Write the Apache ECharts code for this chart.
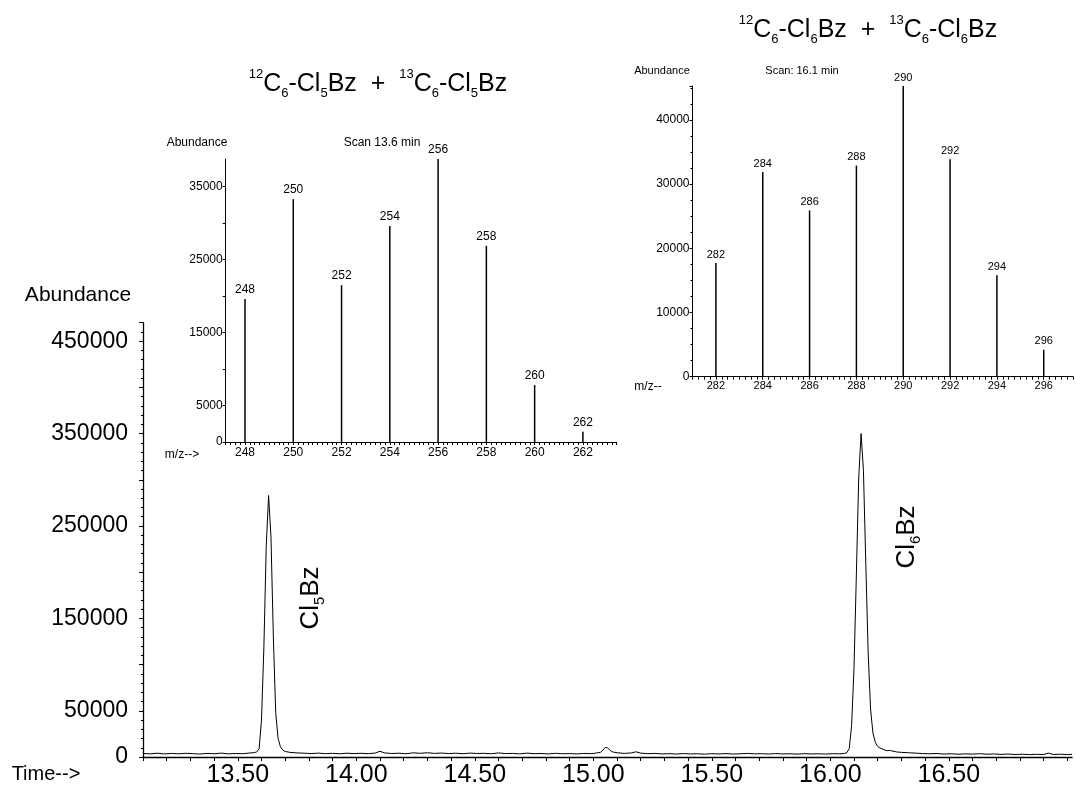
<!DOCTYPE html>
<html><head><meta charset="utf-8">
<script src="https://cdn.jsdelivr.net/npm/echarts@6/dist/echarts.min.js"></script>
<style>html,body{margin:0;padding:0;background:#fff}#c{width:1076px;height:789px}</style>
</head><body><div id="c"></div>
<script>
// ---- Total ion chromatogram (time in min, abundance) ----
const chromTime = [13.10,13.13,13.16,13.19,13.22,13.25,13.28,13.31,13.34,13.37,13.40,13.43,13.46,13.49,13.52,13.55,13.57,13.58,13.59,13.60,13.61,13.62,13.63,13.64,13.65,13.66,13.67,13.68,13.69,13.70,13.72,13.75,13.78,13.81,13.84,13.87,13.90,13.93,13.96,13.99,14.02,14.05,14.08,14.10,14.12,14.15,14.18,14.21,14.24,14.27,14.30,14.33,14.36,14.39,14.42,14.45,14.48,14.51,14.54,14.57,14.60,14.63,14.66,14.69,14.72,14.75,14.78,14.81,14.84,14.87,14.90,14.93,14.96,14.99,15.01,15.03,15.04,15.05,15.06,15.07,15.08,15.10,15.13,15.16,15.18,15.20,15.23,15.26,15.29,15.32,15.35,15.38,15.41,15.44,15.47,15.50,15.53,15.56,15.59,15.62,15.65,15.68,15.71,15.74,15.77,15.80,15.83,15.86,15.89,15.92,15.95,15.98,16.01,16.04,16.06,16.07,16.08,16.09,16.10,16.11,16.12,16.13,16.14,16.15,16.16,16.17,16.18,16.19,16.20,16.21,16.22,16.23,16.24,16.25,16.26,16.28,16.30,16.33,16.36,16.39,16.42,16.45,16.48,16.51,16.54,16.57,16.60,16.63,16.66,16.69,16.72,16.75,16.78,16.81,16.84,16.87,16.90,16.92,16.94,16.97,17.00,17.02];
const chromAbund = [3800,3400,4100,3300,3900,3500,4000,3600,3200,3900,3500,4200,3400,3800,3600,4300,4800,5500,9000,40000,118000,228000,283000,238000,130000,48000,20000,11000,7500,6000,5000,4400,4100,3700,4200,3600,4000,3500,4100,3700,4000,3600,4300,6200,4400,3800,4100,3500,4500,4000,4600,3900,4300,3700,4100,3600,4200,3800,4000,3500,4400,3700,3900,3400,4200,3600,3800,3300,4000,3500,3700,3300,3900,3600,4200,5000,7200,10300,10000,7400,5600,4600,3900,4400,5600,4200,3600,3900,3300,3600,3200,3700,3300,3500,3100,3600,3300,3700,3200,3500,3900,3400,3600,3200,3700,3300,3500,3100,3600,3300,3500,3200,3600,3400,3900,4800,9000,34000,95000,196000,302000,350000,310000,208000,112000,52000,26000,16000,11500,9600,8600,7600,6800,7200,6600,5500,5000,4600,4200,3700,3500,3800,3200,3500,3000,3400,3100,3600,3000,3300,2800,3200,2700,3000,2600,2900,2700,4200,2800,3000,2600,2900];
const mainXLabels = [13.5,14.0,14.5,15.0,15.5,16.0,16.5];
const mainYLabels = [0,50000,150000,250000,350000,450000];

// ---- Mass spectrum at 13.6 min (Cl5Bz) ----
const ms1Mz = [248,250,252,254,256,258,260,262];
const ms1Abund = [19600,33300,21500,29600,38900,26900,7800,1400];
const ms1XLabels = [248,250,252,254,256,258,260,262];
const ms1YLabels = [0,5000,15000,25000,35000];

// ---- Mass spectrum at 16.1 min (Cl6Bz) ----
const ms2Mz = [282,284,286,288,290,292,294,296];
const ms2Abund = [17700,31900,25900,32900,45300,33900,15800,4200];
const ms2XLabels = [282,284,286,288,290,292,294,296];
const ms2YLabels = [0,10000,20000,30000,40000];

const FF = 'Liberation Sans, Arial, sans-serif';
const FN = 'Liberation Sans Narrow, Liberation Sans, Arial, sans-serif';
const near = (arr, v, eps) => arr.some(a => Math.abs(a - v) < eps);

const chart = echarts.init(document.getElementById('c'), null, {renderer: 'canvas'});
const black = {color: '#000'};

function txt(x, y, text, font) {
  return {
    type: 'text', x: x, y: y, silent: true,
    style: {text: text, font: font, fill: '#000',
      align: 'center', textAlign: 'center', verticalAlign: 'middle', textVerticalAlign: 'middle'}
  };
}

const titleRich = {
  m: {fontSize: 25, fontFamily: FF, lineHeight: 32, fill: '#000'},
  sup: {fontSize: 13, fontFamily: FF, lineHeight: 17, verticalAlign: 'top', fill: '#000'},
  sub: {fontSize: 13, fontFamily: FF, lineHeight: 24, verticalAlign: 'bottom', fill: '#000'}
};
const rotRich = {
  m: {fontSize: 26, fontFamily: FF, lineHeight: 32, fill: '#000'},
  sub: {fontSize: 15, fontFamily: FF, lineHeight: 24, verticalAlign: 'bottom', fill: '#000'}
};

const option = {
  backgroundColor: '#fff',
  animation: false,
  grid: [
    {left: 143, right: 4, top: 322.7, bottom: 32},
    {left: 225.7, width: 391, top: 159, height: 283},
    {left: 692.5, width: 381.9, top: 86, height: 290.7}
  ],
  xAxis: [
    {type: 'value', gridIndex: 0, min: 13.1, max: 17.02, interval: 0.1,
     axisLine: {show: true, onZero: false, lineStyle: {color: '#000', width: 1.4}},
     axisTick: {show: true, length: 4, lineStyle: black},
     splitLine: {show: false},
     axisLabel: {color: '#000', fontFamily: FF, fontSize: 25, margin: 6, showMaxLabel: false,
       formatter: v => { const r = Math.round(v * 100) / 100; return near(mainXLabels, r, 1e-6) ? r.toFixed(2) : ''; }}},
    {type: 'value', gridIndex: 1, min: 247.2, max: 263.4, interval: 0.2,
     axisLine: {show: true, onZero: false, lineStyle: black},
     axisTick: {show: true, length: 3, lineStyle: black},
     splitLine: {show: false},
     axisLabel: {color: '#000', fontFamily: FN, fontSize: 12, margin: 5,
       formatter: v => { const r = Math.round(v * 10) / 10; return near(ms1XLabels, r, 1e-6) ? String(Math.round(r)) : ''; }}},
    {type: 'value', gridIndex: 2, min: 281.0, max: 297.25, interval: 0.25,
     axisLine: {show: true, onZero: false, lineStyle: black},
     axisTick: {show: true, length: 3, lineStyle: black},
     splitLine: {show: false},
     axisLabel: {color: '#000', fontFamily: FF, fontSize: 11, margin: 4,
       formatter: v => { const r = Math.round(v * 100) / 100; return near(ms2XLabels, r, 1e-6) ? String(Math.round(r)) : ''; }}}
  ],
  yAxis: [
    {type: 'value', gridIndex: 0, min: 0, max: 470000, interval: 50000,
     axisLine: {show: true, lineStyle: {color: '#000', width: 1.3}},
     axisTick: {show: true, length: 4, lineStyle: black},
     minorTick: {show: true, splitNumber: 5, length: 2, lineStyle: black},
     splitLine: {show: false},
     axisLabel: {color: '#000', fontFamily: FF, fontSize: 23, margin: 15, showMaxLabel: false,
       formatter: v => near(mainYLabels, v, 1) ? String(v) : ''}},
    {type: 'value', gridIndex: 1, min: 0, max: 38800, interval: 5000,
     axisLine: {show: true, lineStyle: black},
     axisTick: {show: true, length: 3, lineStyle: black},
     splitLine: {show: false},
     axisLabel: {color: '#000', fontFamily: FN, fontSize: 12, margin: 3, showMaxLabel: false,
       formatter: v => near(ms1YLabels, v, 1) ? String(v) : ''}},
    {type: 'value', gridIndex: 2, min: 0, max: 45300, interval: 10000,
     axisLine: {show: true, lineStyle: black},
     axisTick: {show: true, length: 3, lineStyle: black},
     minorTick: {show: true, splitNumber: 4, length: 2, lineStyle: black},
     splitLine: {show: false},
     axisLabel: {color: '#000', fontFamily: FF, fontSize: 12, margin: 3, showMaxLabel: false,
       formatter: v => near(ms2YLabels, v, 1) ? String(v) : ''}}
  ],
  series: [
    {type: 'line', xAxisIndex: 0, yAxisIndex: 0, showSymbol: false, symbol: 'none',
     lineStyle: {color: '#000', width: 1}, data: chromTime.map((t, i) => [t, chromAbund[i]])},
    {type: 'bar', xAxisIndex: 1, yAxisIndex: 1, barWidth: 1.5, itemStyle: {color: '#000'},
     label: {show: true, position: 'top', distance: 3, color: '#000', fontFamily: FN, fontSize: 12,
       formatter: p => String(p.value[0])},
     data: ms1Mz.map((m, i) => [m, ms1Abund[i]])},
    {type: 'bar', xAxisIndex: 2, yAxisIndex: 2, barWidth: 1.5, itemStyle: {color: '#000'},
     label: {show: true, position: 'top', distance: 3, color: '#000', fontFamily: FF, fontSize: 11,
       formatter: p => String(p.value[0])},
     data: ms2Mz.map((m, i) => [m, ms2Abund[i]])}
  ],
  graphic: [
    txt(78, 295, 'Abundance', '21px ' + FF),
    txt(46, 774, 'Time-->', '20px ' + FF),
    txt(197, 143, 'Abundance', '12px ' + FN),
    txt(382, 143, 'Scan 13.6 min', '12px ' + FN),
    txt(182, 455, 'm/z-->', '12px ' + FN),
    txt(662, 71, 'Abundance', '11px ' + FF),
    txt(802, 71, 'Scan: 16.1 min', '11px ' + FF),
    txt(648, 387, 'm/z--', '12px ' + FF),
    {type: 'text', x: 378, y: 84, silent: true,
     style: {text: '{sup|12}{m|C}{sub|6}{m|-Cl}{sub|5}{m|Bz  +  }{sup|13}{m|C}{sub|6}{m|-Cl}{sub|5}{m|Bz}',
       rich: titleRich, align: 'center', textAlign: 'center', verticalAlign: 'middle', textVerticalAlign: 'middle', fill: '#000'}},
    {type: 'text', x: 868, y: 30, silent: true,
     style: {text: '{sup|12}{m|C}{sub|6}{m|-Cl}{sub|6}{m|Bz  +  }{sup|13}{m|C}{sub|6}{m|-Cl}{sub|6}{m|Bz}',
       rich: titleRich, align: 'center', textAlign: 'center', verticalAlign: 'middle', textVerticalAlign: 'middle', fill: '#000'}},
    {type: 'text', x: 311, y: 598, rotation: Math.PI / 2, silent: true,
     style: {text: '{m|Cl}{sub|5}{m|Bz}', rich: rotRich, align: 'center', textAlign: 'center',
       verticalAlign: 'middle', textVerticalAlign: 'middle', fill: '#000'}},
    {type: 'text', x: 907, y: 537, rotation: Math.PI / 2, silent: true,
     style: {text: '{m|Cl}{sub|6}{m|Bz}', rich: rotRich, align: 'center', textAlign: 'center',
       verticalAlign: 'middle', textVerticalAlign: 'middle', fill: '#000'}}
  ]
};
chart.setOption(option);
</script>
</body></html>
